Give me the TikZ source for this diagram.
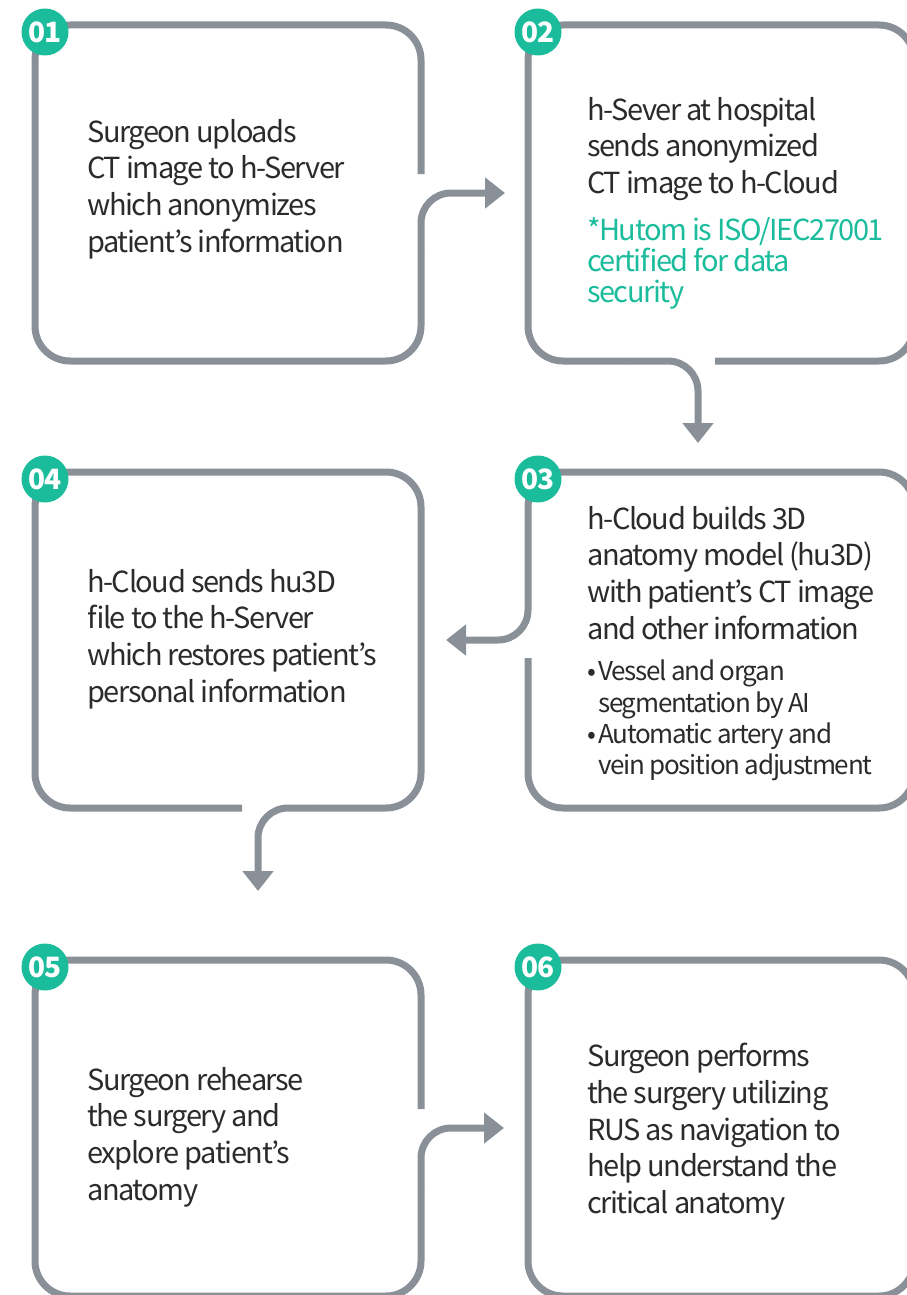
\documentclass[tikz,border=0pt]{standalone}
\usepackage{fontspec}
\setmainfont{Noto Sans CJK KR}[LetterSpace=-5]
\usetikzlibrary{positioning,arrows.meta}

\definecolor{frameGray}{HTML}{8A9097}
\definecolor{hutomTeal}{HTML}{1ABC9C}
\definecolor{inkGray}{HTML}{2B2B2B}

\begin{document}
\begin{tikzpicture}[
    x=1pt,y=-1pt,
    box/.style={rectangle,minimum width=386pt,minimum height=336pt,inner sep=0pt,outer sep=0pt},
    frame/.style={draw=frameGray,line width=7pt,rounded corners=35pt},
    flow/.style={draw=frameGray,line width=7pt,rounded corners=30pt,
        -{Triangle[length=20pt,width=30pt]}},
    badge/.style={circle,fill=hutomTeal,text=white,minimum size=47pt,inner sep=0pt,
        font=\fontsize{28}{28}\selectfont\bfseries},
    txt/.style={anchor=north west,inner sep=0pt,align=left,text=inkGray,
        font=\fontsize{29}{36.7}\selectfont},
    note/.style={txt,text=hutomTeal,font=\fontsize{29}{31}\selectfont},
    bullets/.style={txt,font=\fontsize{26}{31.3}\selectfont},
]
\useasboundingbox (0,0) rectangle (906,1295);

%% Step boxes (outline drawn by hand, so the nodes are only frames)
\node[box] (box1) at (228,193) {};
\node[box,right=107pt of box1] (box2) {};
\node[box,below=111pt of box1] (box4) {};
\node[box,right=107pt of box4] (box3) {};
\node[box,below=152pt of box4] (box5) {};
\node[box,right=107pt of box5] (box6) {};

% Outlines, each one open where its connector leaves
\draw[frame] ([yshift=19pt]box1.east) -- (box1.north east) -- (box1.north west)
    -- (box1.south west) -- (box1.south east) -- ([yshift=-60pt]box1.east);
\draw[frame] ([xshift=-6pt]box2.south) -- (box2.south east) -- (box2.north east)
    -- (box2.north west) -- (box2.south west) -- ([xshift=-90pt]box2.south);
\draw[frame] ([yshift=-18pt]box3.west) -- (box3.south west) -- (box3.south east)
    -- (box3.north east) -- (box3.north west) -- ([yshift=60pt]box3.west);
\draw[frame] ([xshift=14pt]box4.south) -- (box4.south west) -- (box4.north west)
    -- (box4.north east) -- (box4.south east) -- ([xshift=90pt]box4.south);
\draw[frame] ([yshift=19pt]box5.east) -- (box5.north east) -- (box5.north west)
    -- (box5.south west) -- (box5.south east) -- ([yshift=-60pt]box5.east);
\draw[frame] (box6.south west) rectangle (box6.north east);

%% Connectors
\draw[flow,shorten >=23pt] ([yshift=-60pt]box1.east) |- (box2.west);
\draw[flow,shorten >=29pt] ([xshift=-90pt]box2.south) -| ([xshift=-23pt]box3.north);
\draw[flow,shorten >=25pt] ([yshift=60pt]box3.west) |- (box4.east);
\draw[flow,shorten >=69pt] ([xshift=90pt]box4.south) -| ([xshift=30pt]box5.north);
\draw[flow,shorten >=24pt] ([yshift=-60pt]box5.east) |- (box6.west);

%% Step numbers
\foreach \i in {1,...,6}
    \node[badge] (num\i) at ([xshift=10pt,yshift=-7pt]box\i.north west) {0\i};

%% Texts
\node[txt] (text1) at ([xshift=52pt,yshift=-94pt]box1.north west)
    {Surgeon uploads\\CT image to h-Server\\which anonymizes\\patient’s information};
\node[txt] (text2) at ([xshift=59pt,yshift=-72pt]box2.north west)
    {h-Sever at hospital\\sends anonymized\\CT image to h-Cloud};
\node[note] (note2) at ([xshift=59pt,yshift=-192pt]box2.north west)
    {*Hutom is ISO/IEC27001\\certified for data\\security};
\node[txt] (text3) at ([xshift=59pt,yshift=-34pt]box3.north west)
    {h-Cloud builds 3D\\anatomy model (hu3D)\\with patient’s CT image\\and other information};
\node[bullets] (list3) at ([xshift=59pt,yshift=-188pt]box3.north west)
    {\makebox[11pt][l]{•}Vessel and organ\\\hspace*{11pt}segmentation by AI\\
     \makebox[11pt][l]{•}Automatic artery and\\\hspace*{11pt}vein position adjustment};
\node[txt] (text4) at ([xshift=52pt,yshift=-97pt]box4.north west)
    {h-Cloud sends hu3D\\file to the h-Server\\which restores patient’s\\personal information};
\node[txt] (text5) at ([xshift=52pt,yshift=-107pt]box5.north west)
    {Surgeon rehearse\\the surgery and\\explore patient’s\\anatomy};
\node[txt] (text6) at ([xshift=59pt,yshift=-83pt]box6.north west)
    {Surgeon performs\\the surgery utilizing\\RUS as navigation to\\help understand the\\critical anatomy};
\end{tikzpicture}
\end{document}
